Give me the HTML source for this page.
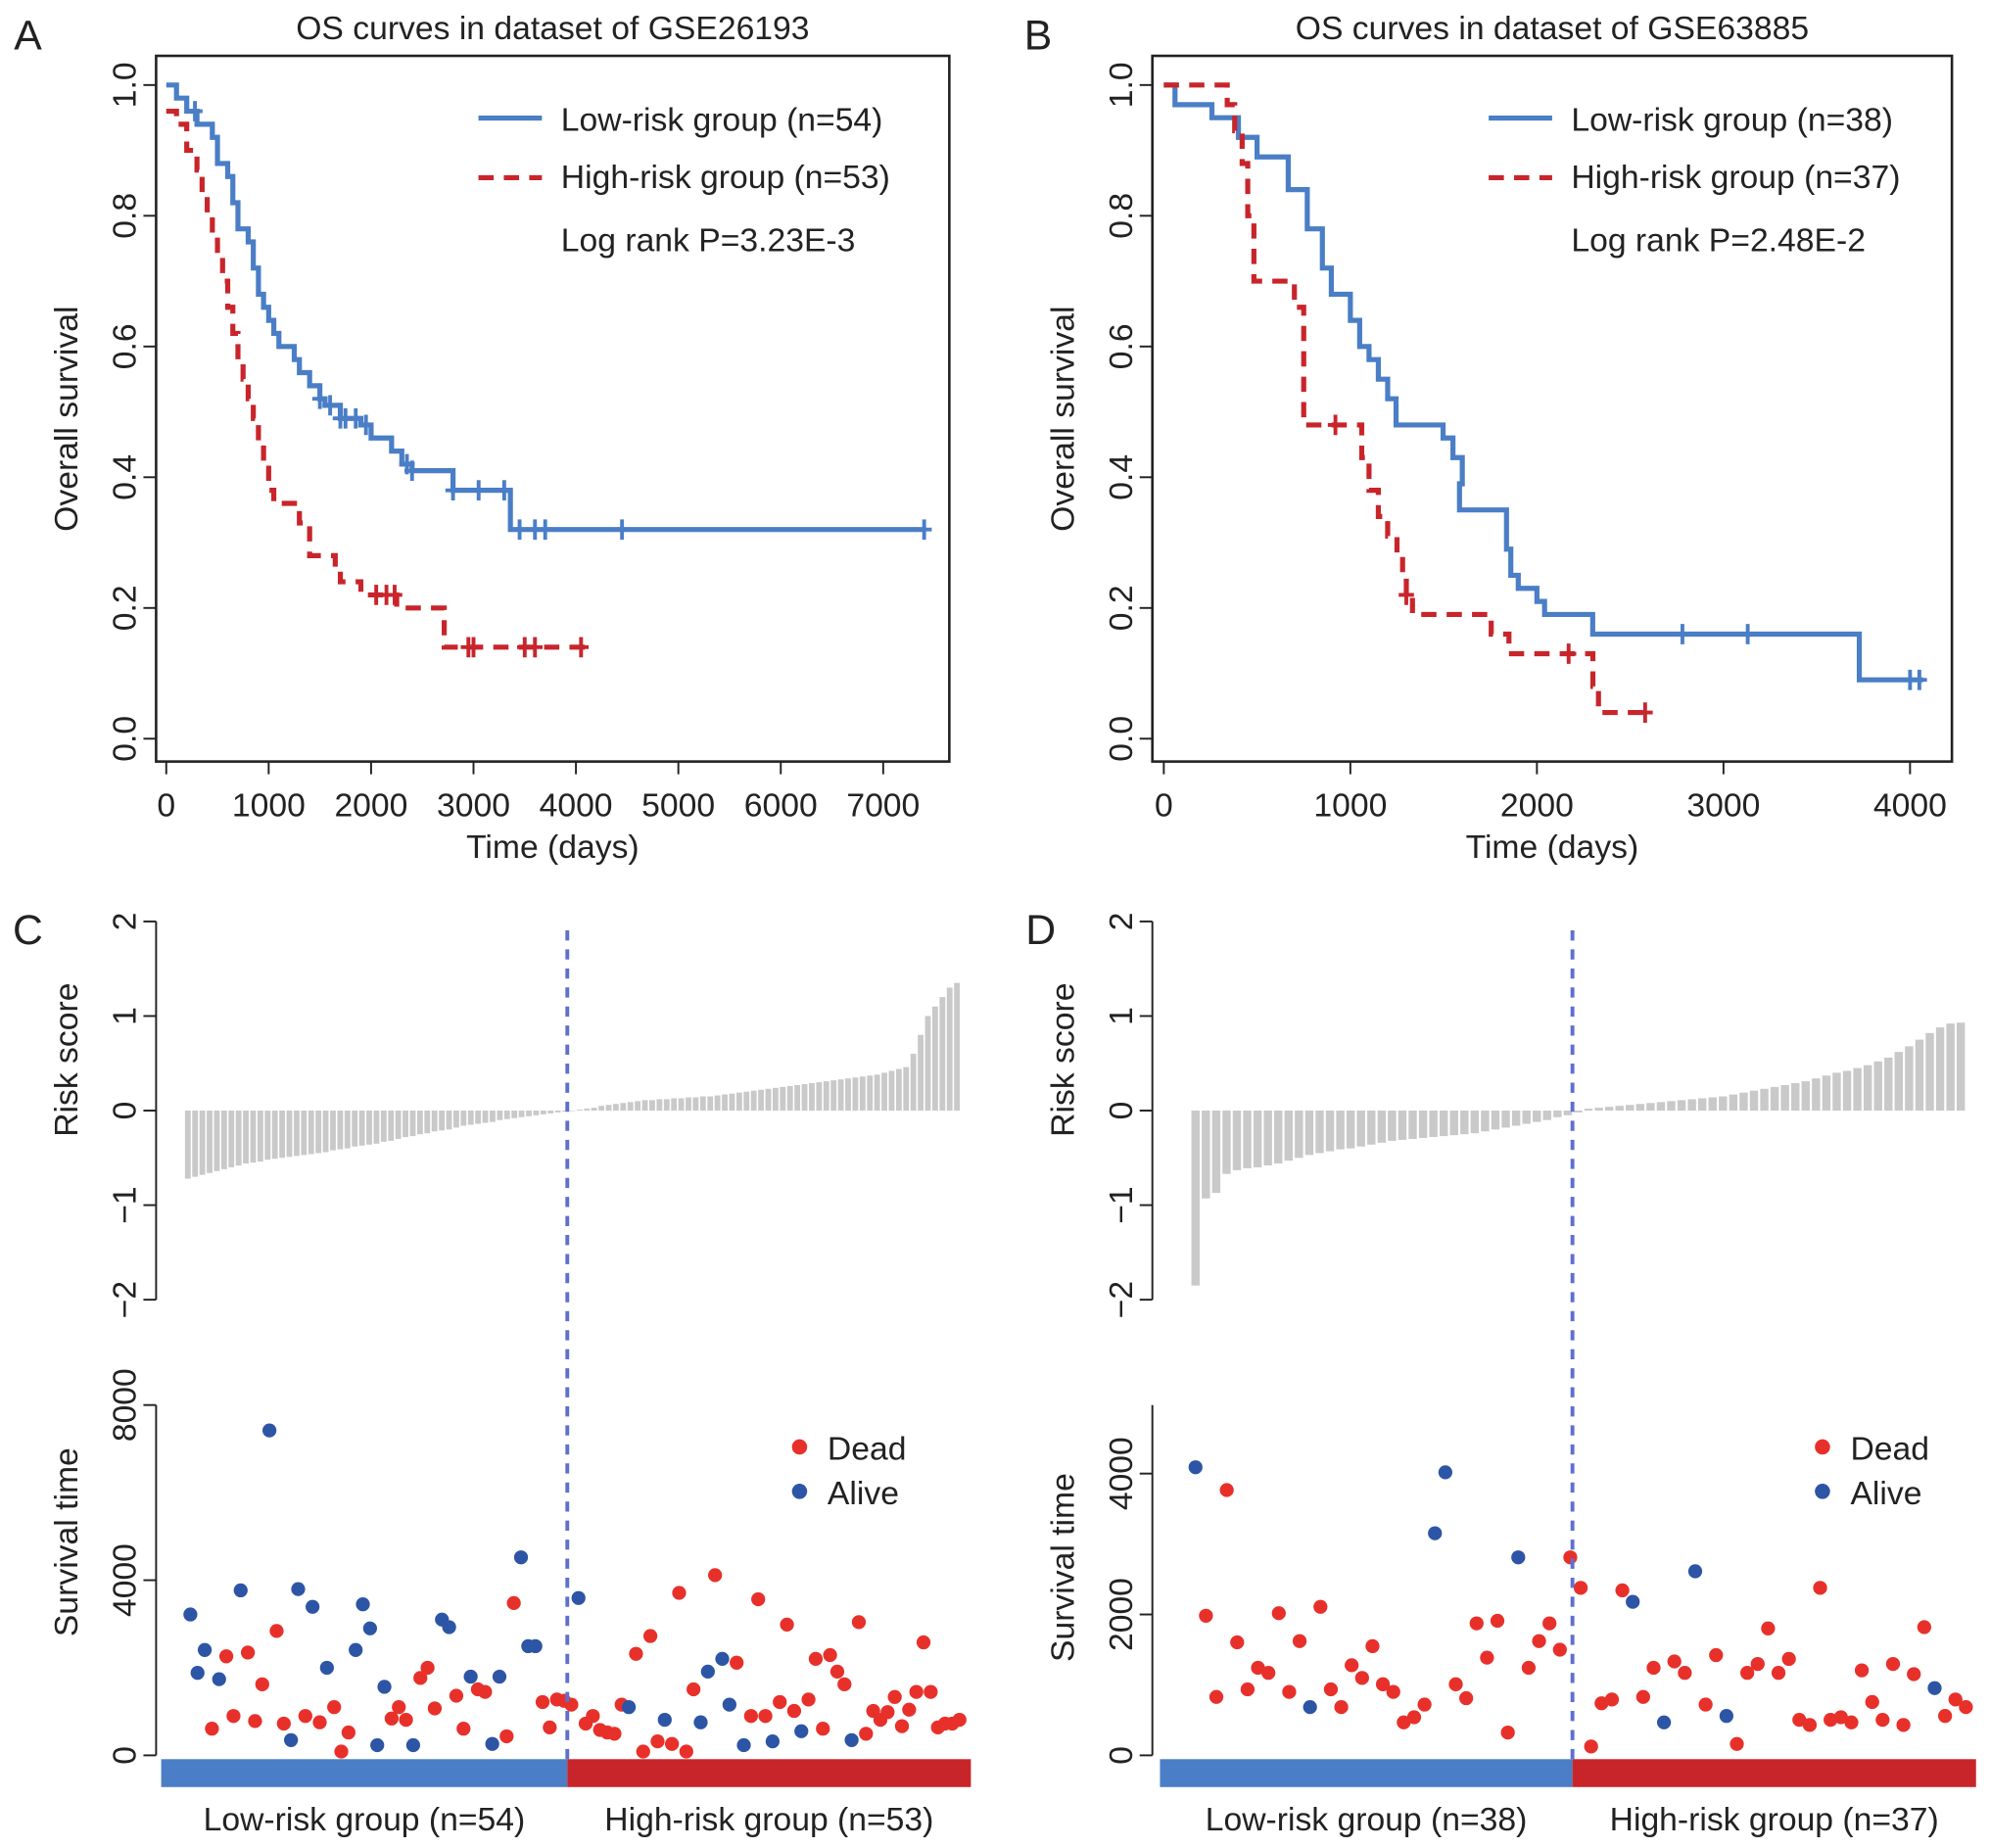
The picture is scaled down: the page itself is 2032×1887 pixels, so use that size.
<!DOCTYPE html>
<html><head><meta charset="utf-8"><style>
html,body{margin:0;padding:0;background:#fff;}
svg{display:block;font-family:"Liberation Sans",Arial,sans-serif;}
</style></head><body>
<svg id="fig" xmlns="http://www.w3.org/2000/svg" width="2032" height="1887" viewBox="0 0 1568 1456" preserveAspectRatio="none">
<g id="g"></g>
</svg>
<script>
// ---------- Panel A data ----------
const aLowT=[0,100,200,300,450,500,600,650,700,800,850,900,950,1000,1050,1100,1250,1300,1400,1500,1550,1700,1900,2000,2200,2300,2400,2800,3360];
const aLowS=[1,0.98,0.96,0.94,0.92,0.88,0.86,0.82,0.78,0.76,0.72,0.68,0.66,0.64,0.62,0.60,0.58,0.56,0.54,0.52,0.51,0.49,0.48,0.46,0.44,0.42,0.41,0.38,0.32];
const aLowEnd=7420;
const aLowCens=[280,1500,1600,1700,1750,1850,1950,2350,2400,2800,3050,3300,3450,3600,3700,4450,7400];
const aHighT=[0,100,200,300,350,400,450,500,550,600,650,700,750,800,850,900,950,1000,1050,1300,1400,1650,1700,1900,2250,2714];
const aHighS=[0.96,0.94,0.90,0.87,0.83,0.80,0.77,0.74,0.70,0.66,0.62,0.58,0.55,0.52,0.49,0.45,0.42,0.38,0.36,0.33,0.28,0.26,0.24,0.22,0.20,0.14];
const aHighEnd=4140;
const aHighCens=[2050,2150,2230,2950,3000,3500,3600,4050];
// ---------- Panel B data ----------
const bLowT=[0,60,258,400,500,667,769,850,898,1000,1050,1100,1150,1200,1245,1497,1550,1600,1585,1837,1860,1900,2000,2041,2299,3728];
const bLowS=[1,0.97,0.95,0.92,0.89,0.84,0.78,0.72,0.68,0.64,0.60,0.58,0.55,0.52,0.48,0.46,0.43,0.39,0.35,0.29,0.25,0.23,0.21,0.19,0.16,0.09];
const bLowEnd=4070;
const bLowCens=[2780,3130,4000,4050];
const bHighT=[0,340,380,420,450,483,700,750,1061,1100,1150,1200,1250,1280,1300,1333,1755,1850,2300,2330];
const bHighS=[1,0.97,0.93,0.88,0.80,0.70,0.66,0.48,0.43,0.38,0.34,0.31,0.28,0.25,0.22,0.19,0.16,0.13,0.08,0.04];
const bHighEnd=2600;
const bHighCens=[920,1300,2170,2580];
// ---------- Panel C data ----------
const cLowRisk=[-0.72,-0.70,-0.68,-0.66,-0.64,-0.62,-0.60,-0.58,-0.56,-0.55,-0.54,-0.52,-0.51,-0.50,-0.49,-0.48,-0.47,-0.46,-0.45,-0.44,-0.42,-0.41,-0.40,-0.38,-0.37,-0.36,-0.35,-0.33,-0.32,-0.30,-0.28,-0.27,-0.25,-0.24,-0.22,-0.21,-0.20,-0.18,-0.16,-0.15,-0.14,-0.13,-0.12,-0.10,-0.09,-0.08,-0.07,-0.06,-0.05,-0.04,-0.03,-0.02,-0.01,-0.005];
const cHighRisk=[0.01,0.02,0.03,0.05,0.06,0.07,0.08,0.09,0.10,0.11,0.11,0.12,0.12,0.13,0.13,0.14,0.14,0.15,0.15,0.16,0.17,0.18,0.19,0.20,0.21,0.22,0.23,0.24,0.25,0.26,0.27,0.28,0.29,0.30,0.31,0.32,0.33,0.34,0.35,0.36,0.37,0.38,0.40,0.42,0.44,0.46,0.60,0.80,1.00,1.10,1.20,1.30,1.35];
const cTimes=[3217,1884,2406,609,1739,2261,899,3768,2348,783,1623,7420,2841,725,348,3797,899,3391,754,2000,1101,87,522,2406,3449,2899,232,1565,841,1101,812,232,1768,2000,1072,3101,2928,1362,609,1797,1507,1449,261,1797,435,3478,4522,2493,2493,1217,638,1275,1246,1159,
3594,725,899,580,522,493,1159,1101,2319,87,2725,319,812,261,3710,87,1507,754,1913,4116,2203,1159,2116,232,899,3565,899,319,1217,2986,1014,551,1275,2203,609,2290,1913,1623,348,3043,493,1014,812,986,1333,667,1043,1449,2580,1449,638,725,725,812];
const cStatus="bbbrbrrbrrrbrrbbrbrbrrrbbbbbrrrbrrrbbrrbrrbbrrbbbrrrrrbrrrrrrbrrrrbrrrrbbrbbrbrrrbrrrbrrrrrrbrrrrrrrrrrrrrr";
// ---------- Panel D data ----------
const dLowRisk=[-1.85,-0.93,-0.87,-0.67,-0.63,-0.61,-0.60,-0.58,-0.56,-0.53,-0.50,-0.47,-0.45,-0.43,-0.41,-0.40,-0.38,-0.36,-0.34,-0.32,-0.31,-0.30,-0.29,-0.28,-0.27,-0.26,-0.25,-0.24,-0.22,-0.20,-0.18,-0.16,-0.14,-0.12,-0.10,-0.07,-0.05,-0.02];
const dHighRisk=[0.02,0.03,0.04,0.05,0.06,0.07,0.08,0.09,0.10,0.11,0.12,0.13,0.14,0.15,0.17,0.19,0.21,0.23,0.25,0.27,0.29,0.31,0.34,0.37,0.40,0.42,0.45,0.48,0.52,0.56,0.62,0.68,0.75,0.82,0.88,0.92,0.93];
const dTimes=[4090,1982,829,3766,1604,937,1243,1171,2018,901,1622,685,2108,937,685,1279,1099,1550,1009,901,468,541,721,3153,4018,1009,811,1874,1387,1910,324,2811,1243,1622,1874,1500,2811,2378,
126,739,793,2342,2180,829,1243,468,1333,1171,2613,721,1423,559,162,1171,1297,1802,1171,1369,504,432,2378,504,541,468,1207,757,504,1297,432,1153,1820,955,559,793,685];
const dStatus="brrrrrrrrrrbrrrrrrrrrrrbbrrrrrrbrrrrrrrrrrbrrbrrbrrbrrrrrrrrrrrrrrrrrrrbrrr";

const NS="http://www.w3.org/2000/svg";
const G=document.getElementById('g');
function el(tag,attrs,parent,text){const e=document.createElementNS(NS,tag);for(const k in attrs)e.setAttribute(k,attrs[k]);if(text!==undefined)e.textContent=text;(parent||G).appendChild(e);return e;}
const BLUE="#4a7ec6",RED="#c8252b";
const FS=26;
function txt(x,y,s,size,anchor,rot,name){const a={x:x,y:y,'font-size':size,'text-anchor':anchor||'middle',fill:'#222'};if(rot)a.transform=`rotate(-90 ${x} ${y})`;const t=el('text',a,G,s);return t;}

function km(o){
  const sx=t=>o.x0+t*o.k, sy=s=>582-s*515;
  const box=el('rect',{x:o.bx,y:44,width:o.bw,height:556,fill:'none',stroke:'#222','stroke-width':2});
  
  [0,0.2,0.4,0.6,0.8,1.0].forEach(v=>{
    const l=el('line',{x1:o.bx,x2:o.bx-10,y1:sy(v),y2:sy(v),stroke:'#222','stroke-width':1.5});
    
    txt(o.bx-16,sy(v),v.toFixed(1),FS,'middle',true,'y-tick-label');
  });
  o.xt.forEach(v=>{
    const l=el('line',{x1:sx(v),x2:sx(v),y1:600,y2:610,stroke:'#222','stroke-width':1.5});
    
    txt(sx(v),643,String(v),FS,'middle',false,'x-tick-label');
  });
  txt(o.bx+o.bw/2,676,'Time (days)',FS,'middle',false,'x-axis-title');
  txt(o.bx-62,330,'Overall survival',FS,'middle',true,'y-axis-title');
  txt(o.bx+o.bw/2,31,o.title,FS,'middle',false,'chart-title');
  function curve(T,S,end,cens,color,dash,name){
    let d=`M${sx(T[0])},${sy(S[0])}`;
    for(let i=1;i<T.length;i++){d+=` H${sx(T[i])} V${sy(S[i])}`;}
    d+=` H${sx(end)}`;
    const p=el('path',{d:d,fill:'none',stroke:color,'stroke-width':4,'stroke-dasharray':dash?'12,8':'none'});
    
    cens.forEach(c=>{let s=S[0];for(let i=0;i<T.length;i++)if(T[i]<=c)s=S[i];
      const m=el('path',{d:`M${sx(c)-6},${sy(s)} h12 M${sx(c)},${sy(s)-8} v16`,stroke:color,'stroke-width':3});
      });
  }
  curve(o.lT,o.lS,o.lE,o.lC,BLUE,false,'low-risk-curve');
  curve(o.hT,o.hS,o.hE,o.hC,RED,true,'high-risk-curve');
  const lx=o.lx;
  let l1=el('line',{x1:lx,x2:lx+50,y1:93,y2:93,stroke:BLUE,'stroke-width':4});
  let l2=el('line',{x1:lx,x2:lx+50,y1:140,y2:140,stroke:RED,'stroke-width':4,'stroke-dasharray':'12,8'});
  txt(lx+65,103,o.leg1,FS,'start',false,'legend-low-entry');
  txt(lx+65,148,o.leg2,FS,'start',false,'legend-high-entry');
  txt(lx+65,198,o.pv,FS,'start',false,'log-rank-p');
}
km({p:'a',bx:123,bw:625,x0:131,k:0.0807,xt:[0,1000,2000,3000,4000,5000,6000,7000],title:'OS curves in  dataset of GSE26193',
 lT:aLowT,lS:aLowS,lE:aLowEnd,lC:aLowCens,hT:aHighT,hS:aHighS,hE:aHighEnd,hC:aHighCens,lx:377,
 leg1:'Low-risk group (n=54)',leg2:'High-risk group (n=53)',pv:'Log rank P=3.23E-3'});
km({p:'b',bx:908,bw:630,x0:917,k:0.147,xt:[0,1000,2000,3000,4000],title:'OS curves in dataset of GSE63885',
 lT:bLowT,lS:bLowS,lE:bLowEnd,lC:bLowCens,hT:bHighT,hS:bHighS,hE:bHighEnd,hC:bHighCens,lx:1173,
 leg1:'Low-risk group (n=38)',leg2:'High-risk group (n=37)',pv:'Log rank P=2.48E-2'});

function risk(o){
  const all=o.low.concat(o.high), n=all.length;
  const ry=v=>875-v*74.5;
  const ax=el('line',{x1:o.ax,x2:o.ax,y1:ry(2),y2:ry(-2),stroke:'#222','stroke-width':1.5});
  [2,1,0,-1,-2].forEach(v=>{const l=el('line',{x1:o.ax,x2:o.ax-10,y1:ry(v),y2:ry(v),stroke:'#222','stroke-width':1.5});
    txt(o.ax-16,ry(v),v<0?'\u2212'+(-v):String(v),FS,'middle',true,'y-tick-label');});
  txt(o.ax-62,835,'Risk score',FS,'middle',true,'risk-y-title');
  const step=(o.b1-o.b0)/(n-1);
  all.forEach((v,i)=>{const x=o.b0+i*step;const r=el('rect',{x:x-o.bw/2,y:Math.min(ry(v),ry(0)),width:o.bw,height:Math.abs(ry(v)-ry(0)),fill:'#c9c9c9'});
    });
  const sy=v=>1383-v*o.sk;
  const ax2=el('line',{x1:o.ax,x2:o.ax,y1:1107,y2:1383,stroke:'#222','stroke-width':1.5});
  o.st.forEach(v=>{const l=el('line',{x1:o.ax,x2:o.ax-10,y1:sy(v),y2:sy(v),stroke:'#222','stroke-width':1.5});
    txt(o.ax-16,sy(v),String(v),FS,'middle',true,'y-tick-label');});
  txt(o.ax-62,o.sty,'Survival time',FS,'middle',true,'survival-y-title');
  const m=o.times.length, st2=(o.p1-o.p0)/(m-1);
  o.times.forEach((t,i)=>{const c=el('circle',{cx:o.p0+i*st2,cy:sy(t),r:5.5,fill:o.status[i]==='b'?'#2d55a5':'#e8302a'});
    });
  const dl=el('line',{x1:o.dx,x2:o.dx,y1:733,y2:1386,stroke:'#5f6fd0','stroke-width':3,'stroke-dasharray':'8,7'});
  let r1=el('rect',{x:o.c0,y:1386,width:o.dx-o.c0,height:22,fill:'#4a7ec6'});
  let r2=el('rect',{x:o.dx,y:1386,width:o.c1-o.dx,height:22,fill:'#c8252b'});
  txt((o.c0+o.dx)/2,1442,o.g1,FS,'middle',false,'low-group-label');
  txt((o.dx+o.c1)/2,1442,o.g2,FS,'middle',false,'high-group-label');
  let d1=el('circle',{cx:o.lx,cy:1140,r:6,fill:'#e8302a'});
  let d2=el('circle',{cx:o.lx,cy:1175,r:6,fill:'#2d55a5'});
  txt(o.lx+22,1150,'Dead',FS,'start',false,'legend-dead-entry');
  txt(o.lx+22,1185,'Alive',FS,'start',false,'legend-alive-entry');
}
risk({low:cLowRisk,high:cHighRisk,ax:123,b0:148,b1:754,bw:4.5,sk:0.0345,st:[0,4000,8000],sty:1215,times:cTimes,status:cStatus,p0:150,p1:756,dx:447,c0:127,c1:765,lx:630,g1:'Low-risk group (n=54)',g2:'High-risk group (n=53)'});
risk({low:dLowRisk,high:dHighRisk,ax:908,b0:942,b1:1545,bw:6.5,sk:0.0555,st:[0,2000,4000],sty:1235,times:dTimes,status:dStatus,p0:942,p1:1549,dx:1239,c0:914,c1:1557,lx:1436,g1:'Low-risk group (n=38)',g2:'High-risk group (n=37)'});

txt(22,39,'A',33,'middle',false,'panel-label-a');
txt(818,39,'B',33,'middle',false,'panel-label-b');
txt(22,744,'C',33,'middle',false,'panel-label-c');
txt(820,744,'D',33,'middle',false,'panel-label-d');
</script>
</body></html>
